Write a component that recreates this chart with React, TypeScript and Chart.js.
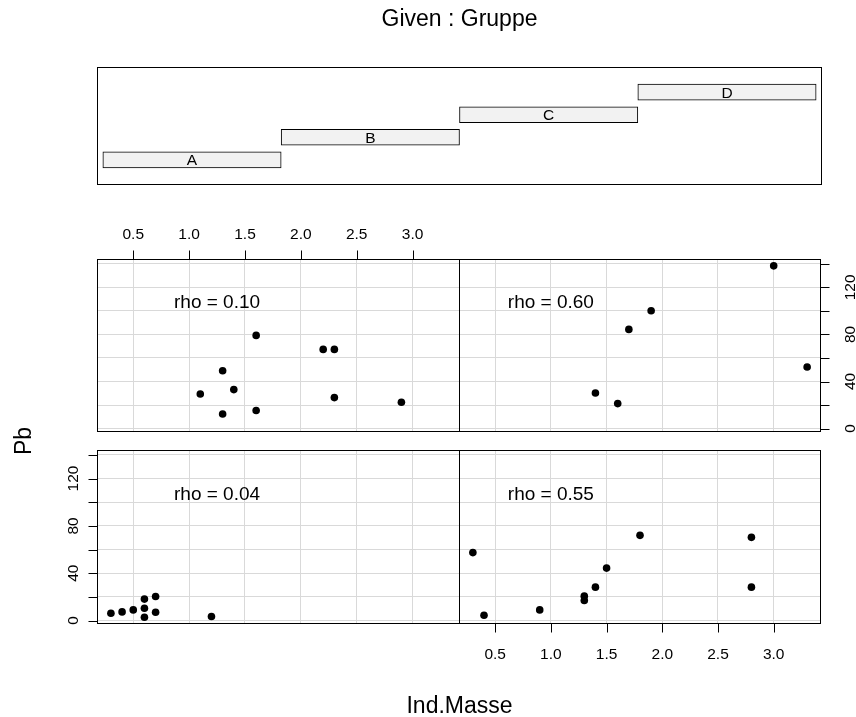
import React, { useEffect, useRef } from 'react';
import { Chart, registerables } from 'chart.js';

Chart.register(...registerables);

const W = 856;
const H = 717;
const FONT = '"Liberation Sans", Arial, Helvetica, sans-serif';
const GRID = '#d9d9d9';

// ---- Given panel (factor Gruppe) ----
const groups = ['A', 'B', 'C', 'D'];
const groupLevels = [1, 2, 3, 4];
const groupIntervals: [number, number][] = [
  [0.5, 1.5],
  [1.5, 2.5],
  [2.5, 3.5],
  [3.5, 4.5],
];

// ---- Axis ticks ----
const xTicks = [0.5, 1.0, 1.5, 2.0, 2.5, 3.0];
const xTickLabels = ['0.5', '1.0', '1.5', '2.0', '2.5', '3.0'];
const yTicks = [0, 20, 40, 60, 80, 100, 120, 140];
const yTickLabels = ['0', '', '40', '', '80', '', '120', ''];

// ---- Data: Ind.Masse (x) vs Pb (y) per group ----
const massA = [0.3, 0.4, 0.5, 0.6, 0.6, 0.6, 0.7, 0.7, 1.2];
const pbA = [6.2, 7.3, 9.0, 18.1, 10.4, 2.8, 20.3, 7.0, 3.4];
const rhoA = 'rho = 0.04';

const massB = [0.3, 0.4, 0.9, 1.3, 1.3, 1.4, 1.5, 1.8, 2.8, 2.8];
const pbB = [57.4, 4.5, 9.0, 20.6, 16.9, 28.2, 44.3, 72.0, 70.3, 28.2];
const rhoB = 'rho = 0.55';

const massC = [1.6, 2.2, 2.3, 1.3, 1.1, 1.4, 2.3, 2.9, 1.3, 1.6];
const pbC = [79.2, 67.3, 67.3, 49.2, 29.4, 33.1, 26.3, 22.3, 12.4, 15.3];
const rhoC = 'rho = 0.10';

const massD = [3.0, 1.9, 1.7, 3.3, 1.4, 1.6];
const pbD = [138.3, 100.1, 84.3, 52.3, 30.2, 21.2];
const rhoD = 'rho = 0.60';

// ---- Scale extents ----
const X_MIN = 0.18;
const X_MAX = 3.42;
const Y_MIN = -2.5;
const Y_MAX = 143.7;
const G_X_MIN = 0.47;
const G_X_MAX = 4.53;
const G_Y_MIN = 0.34;
const G_Y_MAX = 4.66;
const RHO_Y = 108;

type Rect = { l: number; t: number; r: number; b: number };
type Panel = {
  mass: number[];
  pb: number[];
  rho: string;
  rhoX: number;
  rect: Rect;
  axis: 'top' | 'right' | 'left' | 'bottom';
};

const panels: Panel[] = [
  { mass: massC, pb: pbC, rho: rhoC, rhoX: 1.25, rect: { l: 97.5, t: 259.5, r: 459.5, b: 431.5 }, axis: 'top' },
  { mass: massD, pb: pbD, rho: rhoD, rhoX: 1.0, rect: { l: 459.5, t: 259.5, r: 820.5, b: 431.5 }, axis: 'right' },
  { mass: massA, pb: pbA, rho: rhoA, rhoX: 1.25, rect: { l: 97.5, t: 450.5, r: 459.5, b: 623.5 }, axis: 'left' },
  { mass: massB, pb: pbB, rho: rhoB, rhoX: 1.0, rect: { l: 459.5, t: 450.5, r: 820.5, b: 623.5 }, axis: 'bottom' },
];
const givenRect: Rect = { l: 97.5, t: 67.5, r: 821.5, b: 184.5 };

const TICK_FONT = 15.5;
const TICK_LEN = 9;

function panelPlugin(p: Panel) {
  return {
    id: 'panelDeco',
    afterDraw(chart: any) {
      const { ctx, chartArea: a, scales } = chart;
      const xs = scales.x;
      const ys = scales.y;
      ctx.save();
      ctx.strokeStyle = '#000';
      ctx.lineWidth = 1;
      ctx.strokeRect(a.left, a.top, a.right - a.left, a.bottom - a.top);

      ctx.fillStyle = '#000';
      ctx.font = `19px ${FONT}`;
      ctx.textAlign = 'center';
      ctx.textBaseline = 'alphabetic';
      ctx.fillText(p.rho, xs.getPixelForValue(p.rhoX), ys.getPixelForValue(RHO_Y) + 19 * 0.358);

      ctx.font = `${TICK_FONT}px ${FONT}`;
      ctx.beginPath();
      if (p.axis === 'top' || p.axis === 'bottom') {
        xTicks.forEach((v) => {
          const px = Math.round(xs.getPixelForValue(v)) + 0.5;
          if (p.axis === 'top') {
            ctx.moveTo(px, a.top);
            ctx.lineTo(px, a.top - TICK_LEN);
          } else {
            ctx.moveTo(px, a.bottom);
            ctx.lineTo(px, a.bottom + TICK_LEN);
          }
        });
      } else {
        yTicks.forEach((v) => {
          const py = Math.round(ys.getPixelForValue(v)) + 0.5;
          if (p.axis === 'left') {
            ctx.moveTo(a.left, py);
            ctx.lineTo(a.left - TICK_LEN, py);
          } else {
            ctx.moveTo(a.right, py);
            ctx.lineTo(a.right + TICK_LEN, py);
          }
        });
      }
      ctx.stroke();

      if (p.axis === 'top' || p.axis === 'bottom') {
        xTicks.forEach((v, i) => {
          const px = xs.getPixelForValue(v);
          const by = p.axis === 'top' ? a.top - 21 : a.bottom + 35;
          ctx.fillText(xTickLabels[i], px, by);
        });
      } else {
        yTicks.forEach((v, i) => {
          const label = yTickLabels[i];
          if (!label) return;
          const py = ys.getPixelForValue(v);
          const bx = p.axis === 'left' ? a.left - 19.2 : a.right + 34;
          ctx.save();
          ctx.translate(bx, py);
          ctx.rotate(-Math.PI / 2);
          ctx.fillText(label, 0, 0);
          ctx.restore();
        });
      }
      ctx.restore();
    },
  };
}

const givenPlugin = {
  id: 'givenDeco',
  afterDraw(chart: any) {
    const { ctx, chartArea: a } = chart;
    ctx.save();
    ctx.strokeStyle = '#000';
    ctx.lineWidth = 1;
    ctx.strokeRect(a.left, a.top, a.right - a.left, a.bottom - a.top);

    ctx.fillStyle = '#000';
    ctx.textAlign = 'center';
    ctx.textBaseline = 'alphabetic';
    ctx.font = `${TICK_FONT}px ${FONT}`;
    const meta = chart.getDatasetMeta(0);
    meta.data.forEach((el: any, i: number) => {
      const { x, y, base } = el.getProps(['x', 'y', 'base'], true);
      ctx.fillText(groups[i], (x + base) / 2, y + TICK_FONT * 0.358);
    });

    ctx.font = `23px ${FONT}`;
    const cx = (a.left + a.right) / 2;
    ctx.fillText('Given : Gruppe', cx, 26);
    ctx.fillText('Ind.Masse', cx, 713);
    ctx.save();
    ctx.translate(31, 441);
    ctx.rotate(-Math.PI / 2);
    ctx.fillText('Pb', 0, 0);
    ctx.restore();
    ctx.restore();
  },
};

function padFor(r: Rect) {
  return { left: r.l, top: r.t, right: W - r.r, bottom: H - r.b };
}

function makeScatter(canvas: HTMLCanvasElement, p: Panel) {
  return new Chart(canvas, {
    type: 'scatter',
    data: {
      datasets: [
        {
          data: p.mass.map((m, i) => ({ x: m, y: p.pb[i] })),
          pointRadius: 3.8,
          pointBackgroundColor: '#000',
          pointBorderColor: '#000',
          pointBorderWidth: 0,
          showLine: false,
        },
      ],
    },
    options: {
      responsive: false,
      animation: false,
      events: [],
      layout: { padding: padFor(p.rect) },
      plugins: { legend: { display: false }, tooltip: { enabled: false }, title: { display: false } },
      scales: {
        x: {
          type: 'linear',
          min: X_MIN,
          max: X_MAX,
          afterBuildTicks: (s: any) => {
            s.ticks = xTicks.map((v) => ({ value: v }));
          },
          ticks: { display: false },
          grid: { color: GRID, lineWidth: 1, drawTicks: false },
          border: { display: false },
        },
        y: {
          type: 'linear',
          min: Y_MIN,
          max: Y_MAX,
          afterBuildTicks: (s: any) => {
            s.ticks = yTicks.map((v) => ({ value: v }));
          },
          ticks: { display: false },
          grid: { color: GRID, lineWidth: 1, drawTicks: false },
          border: { display: false },
        },
      },
    } as any,
    plugins: [panelPlugin(p)],
  });
}

function makeGiven(canvas: HTMLCanvasElement) {
  return new Chart(canvas, {
    type: 'bar',
    data: {
      labels: groups,
      datasets: [
        {
          data: groupIntervals.map((iv, i) => ({ x: iv, y: groupLevels[i] })) as any,
          backgroundColor: '#f2f2f2',
          borderColor: '#000',
          borderWidth: 1,
          borderSkipped: false,
          barThickness: 16,
        },
      ],
    },
    options: {
      indexAxis: 'y',
      responsive: false,
      animation: false,
      events: [],
      layout: { padding: padFor(givenRect) },
      plugins: { legend: { display: false }, tooltip: { enabled: false }, title: { display: false } },
      scales: {
        x: { type: 'linear', min: G_X_MIN, max: G_X_MAX, display: false },
        y: { type: 'linear', min: G_Y_MIN, max: G_Y_MAX, display: false },
      },
    } as any,
    plugins: [givenPlugin],
  });
}

export default function App() {
  const givenRef = useRef<HTMLCanvasElement>(null);
  const r0 = useRef<HTMLCanvasElement>(null);
  const r1 = useRef<HTMLCanvasElement>(null);
  const r2 = useRef<HTMLCanvasElement>(null);
  const r3 = useRef<HTMLCanvasElement>(null);

  useEffect(() => {
    const charts: Chart[] = [];
    if (givenRef.current) charts.push(makeGiven(givenRef.current));
    [r0, r1, r2, r3].forEach((r, i) => {
      if (r.current) charts.push(makeScatter(r.current, panels[i]));
    });
    return () => charts.forEach((c) => c.destroy());
  }, []);

  const cs: React.CSSProperties = { position: 'absolute', left: 0, top: 0, width: W, height: H };
  return (
    <div style={{ position: 'absolute', left: 0, top: 0, width: W, height: H, background: '#fff' }}>
      <canvas ref={givenRef} width={W} height={H} style={cs} />
      <canvas ref={r0} width={W} height={H} style={cs} />
      <canvas ref={r1} width={W} height={H} style={cs} />
      <canvas ref={r2} width={W} height={H} style={cs} />
      <canvas ref={r3} width={W} height={H} style={cs} />
    </div>
  );
}
